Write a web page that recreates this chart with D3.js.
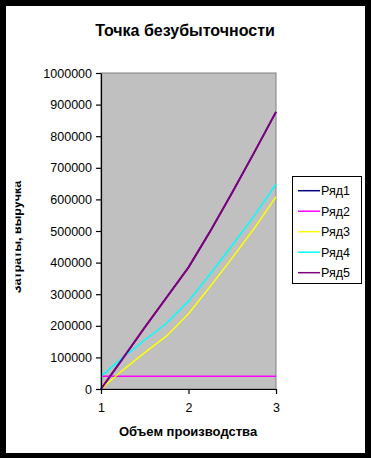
<!DOCTYPE html>
<html><head><meta charset="utf-8">
<script src="https://cdn.jsdelivr.net/npm/d3@7/dist/d3.min.js"></script>
<style>html,body{margin:0;padding:0;background:#000;}svg{display:block;}</style>
</head><body>
<script>
const volumes = [1, 1.25, 1.5, 1.75, 2, 2.25, 2.5, 2.75, 3];
const seriesNames = ["Ряд1", "Ряд2", "Ряд3", "Ряд4", "Ряд5"];
const row1 = [0, 97000, 195000, 290000, 385000, 500000, 622000, 748000, 877000];
const row2 = [40000, 40000, 40000, 40000, 40000, 40000, 40000, 40000, 40000];
const row3 = [0, 60000, 115000, 168000, 238000, 325000, 415000, 508000, 608000];
const row4 = [40000, 100000, 155000, 208000, 278000, 365000, 455000, 548000, 648000];
const row5 = [0, 97000, 195000, 290000, 385000, 500000, 622000, 748000, 877000];
const yTicks = [0, 100000, 200000, 300000, 400000, 500000, 600000, 700000, 800000, 900000, 1000000];
const xTicks = [1, 2, 3];
const colors = ["#000080", "#FF00FF", "#FFFF00", "#00FFFF", "#800080"];
const title = "Точка безубыточности";
const xTitle = "Объем производства";
const yTitle = "Затраты, выручка";

const W = 371, H = 458;
const svg = d3.select("body").append("svg").attr("width", W).attr("height", H);
svg.append("rect").attr("width", W).attr("height", H).attr("fill", "#000");
svg.append("rect").attr("x", 6).attr("y", 6).attr("width", 359).attr("height", 447).attr("fill", "#fff");

const x = d3.scaleLinear().domain([1, 3]).range([101, 276]);
const y = d3.scaleLinear().domain([0, 1000000]).range([389, 73]);

svg.append("text").attr("x", 185).attr("y", 36).attr("text-anchor", "middle")
  .attr("font-family", "Liberation Sans, Arial, sans-serif").attr("font-weight", "bold")
  .attr("font-size", 16).text(title);

// plot area
svg.append("rect").attr("x", x(1)).attr("y", y(1000000))
  .attr("width", x(3) - x(1)).attr("height", y(0) - y(1000000))
  .attr("fill", "#C0C0C0").attr("stroke", "#808080").attr("stroke-width", 1);

const allRows = [row1, row2, row3, row4, row5];
const line = d3.line().x((d, i) => x(volumes[i])).y(d => y(d));
allRows.forEach((r, k) => {
  svg.append("path").datum(r).attr("d", line).attr("fill", "none")
    .attr("stroke", colors[k]).attr("stroke-width", k === 4 ? 2 : 1.5);
});

const font = "Liberation Sans, Arial, sans-serif";
const yAxis = svg.append("g").attr("transform", `translate(${x(1)},0)`)
  .call(d3.axisLeft(y).tickValues(yTicks).tickSize(5).tickSizeOuter(0).tickPadding(4).tickFormat(d3.format("d")));
const xAxis = svg.append("g").attr("transform", `translate(0,${y(0)})`)
  .call(d3.axisBottom(x).tickValues(xTicks).tickSize(5).tickSizeOuter(0).tickPadding(9).tickFormat(d3.format("d")));
[yAxis, xAxis].forEach(a => {
  a.selectAll("path,line").attr("stroke", "#000").attr("stroke-width", 1.2);
  a.selectAll("text").attr("font-family", font).attr("font-size", 12.5).attr("fill", "#000");
});

svg.append("text").attr("x", 188).attr("y", 436).attr("text-anchor", "middle")
  .attr("font-family", font).attr("font-weight", "bold").attr("font-size", 13).text(xTitle);

svg.append("clipPath").attr("id", "yclip").append("rect")
  .attr("x", 15.5).attr("y", 0).attr("width", 40).attr("height", H);
svg.append("g").attr("clip-path", "url(#yclip)")
  .append("text").attr("transform", "translate(21,237) rotate(-90)")
  .attr("text-anchor", "middle").attr("font-family", font).attr("font-weight", "bold")
  .attr("font-size", 12.5).text(yTitle);

// legend
const lg = svg.append("g");
lg.append("rect").attr("x", 292.5).attr("y", 176.5).attr("width", 69).attr("height", 107)
  .attr("fill", "#fff").attr("stroke", "#000").attr("stroke-width", 1);
seriesNames.forEach((n, i) => {
  const yy = 190.7 + i * 20.5;
  lg.append("line").attr("x1", 298).attr("x2", 320).attr("y1", yy).attr("y2", yy)
    .attr("stroke", colors[i]).attr("stroke-width", 1.5);
  lg.append("text").attr("x", 321).attr("y", yy + 4.5).attr("font-family", font)
    .attr("font-size", 12.5).text(n);
});
</script>
</body></html>
